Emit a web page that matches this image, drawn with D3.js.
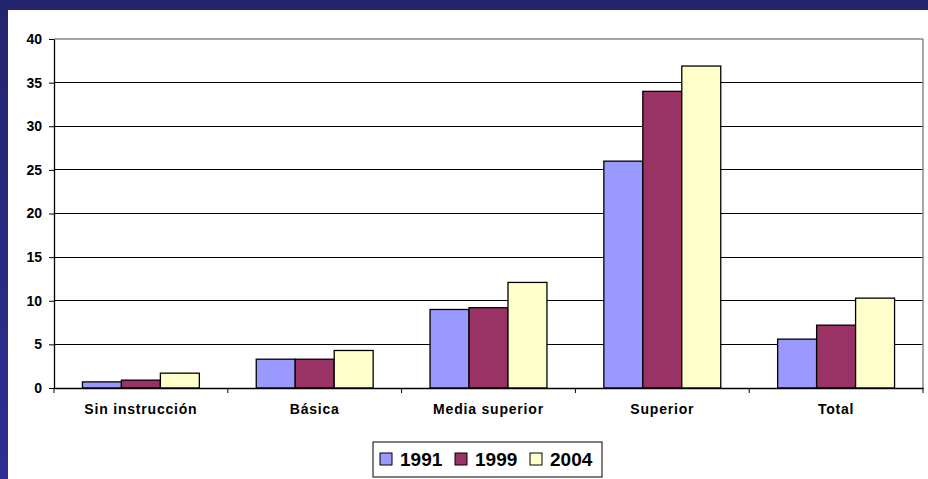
<!DOCTYPE html>
<html><head><meta charset="utf-8">
<script src="https://cdn.jsdelivr.net/npm/d3@7"></script>
<style>body{margin:0;padding:0;overflow:hidden;}svg{display:block;}</style>
</head><body>
<svg id="c" width="928" height="479"></svg>
<script>
const categories = ["Sin instrucción", "Básica", "Media superior", "Superior", "Total"];
const seriesNames = ["1991", "1999", "2004"];
const values1991 = [0.7, 3.3, 9.0, 26.0, 5.6];
const values1999 = [0.9, 3.3, 9.2, 34.0, 7.2];
const values2004 = [1.7, 4.3, 12.1, 36.9, 10.3];
const yTicks = [0, 5, 10, 15, 20, 25, 30, 35, 40];
const colors = ["#9999ff", "#993366", "#ffffcc"];
const seriesValues = [values1991, values1999, values2004];

const svg = d3.select("#c");
const defs = svg.append("defs");
const g1 = defs.append("linearGradient").attr("id","bg").attr("x1",0).attr("y1",0).attr("x2",0).attr("y2",1);
g1.append("stop").attr("offset","0%").attr("stop-color","#24246e");
g1.append("stop").attr("offset","100%").attr("stop-color","#2e2e94");
svg.append("rect").attr("width",928).attr("height",479).attr("fill","url(#bg)");
svg.append("rect").attr("x",8).attr("y",10).attr("width",920).attr("height",469).attr("fill","#fff");

const L = 54, R = 923, T = 39, B = 388;
const x0 = d3.scaleBand().domain(categories).range([L, R]).paddingInner(0).paddingOuter(0);
const x1 = d3.scaleBand().domain(seriesNames).range([0, x0.bandwidth()]).paddingInner(0).paddingOuter(0.73);
const y = d3.scaleLinear().domain([0, 40]).range([B, T]);

// gridlines
svg.append("g").selectAll("line").data(yTicks.filter(d => d > 0 && d < 40)).join("line")
  .attr("x1", L).attr("x2", R).attr("y1", d => y(d)).attr("y2", d => y(d))
  .attr("stroke", "#000").attr("stroke-width", 1).attr("shape-rendering","crispEdges");
// plot border top/right
svg.append("line").attr("x1",L).attr("x2",R).attr("y1",y(40)).attr("y2",y(40)).attr("stroke","#888").attr("stroke-width",1.5);
svg.append("line").attr("x1",R).attr("x2",R).attr("y1",T).attr("y2",B).attr("stroke","#888").attr("stroke-width",1.5);

// bars
const groups = svg.append("g").selectAll("g").data(categories).join("g")
  .attr("transform", d => `translate(${x0(d)},0)`);
groups.selectAll("rect").data((d, i) => seriesNames.map((s, j) => ({s, v: seriesValues[j][i], c: colors[j]}))).join("rect")
  .attr("x", d => x1(d.s)).attr("width", x1.bandwidth())
  .attr("y", d => y(d.v)).attr("height", d => y(0) - y(d.v))
  .attr("fill", d => d.c).attr("stroke", "#000").attr("stroke-width", 1.3);

// y axis
const ya = svg.append("g").attr("transform", `translate(${L},0)`)
  .call(d3.axisLeft(y).tickValues(yTicks).tickSize(5).tickPadding(7).tickSizeOuter(0));
ya.select(".domain").attr("stroke","#000").attr("stroke-width",1.3);
ya.selectAll(".tick line").attr("stroke","#000");
ya.selectAll("text").attr("font-family","Liberation Sans, Arial, sans-serif").attr("font-weight","bold").attr("font-size",14).attr("fill","#000");

// x axis
const xa = svg.append("g").attr("transform", `translate(0,${B})`)
  .call(d3.axisBottom(x0).tickSize(0).tickPadding(16));
xa.select(".domain").attr("stroke","#000").attr("stroke-width",1.3);
xa.selectAll("text").attr("font-family","Liberation Sans, Arial, sans-serif").attr("font-weight","bold").attr("font-size",14).attr("fill","#000").attr("letter-spacing","0.8px");
// category boundary ticks
svg.append("g").selectAll("line").data(categories.map((c,i)=>i).concat([categories.length])).join("line")
  .attr("x1", i => L + i * x0.bandwidth()).attr("x2", i => L + i * x0.bandwidth())
  .attr("y1", B).attr("y2", B + 5).attr("stroke", "#000").attr("stroke-width", 1);

// legend
const lg = svg.append("g");
lg.append("rect").attr("x", 373).attr("y", 442).attr("width", 229).attr("height", 35)
  .attr("fill", "#fff").attr("stroke", "#000").attr("stroke-width", 1);
const lx = [380, 455, 530];
seriesNames.forEach((s, j) => {
  lg.append("rect").attr("x", lx[j]).attr("y", 453).attr("width", 12).attr("height", 12)
    .attr("fill", colors[j]).attr("stroke", "#000").attr("stroke-width", 1);
  lg.append("text").attr("x", lx[j] + 20).attr("y", 466).text(s)
    .attr("font-family","Liberation Sans, Arial, sans-serif").attr("font-weight","bold").attr("font-size",19).attr("fill","#000");
});
</script>
</body></html>
